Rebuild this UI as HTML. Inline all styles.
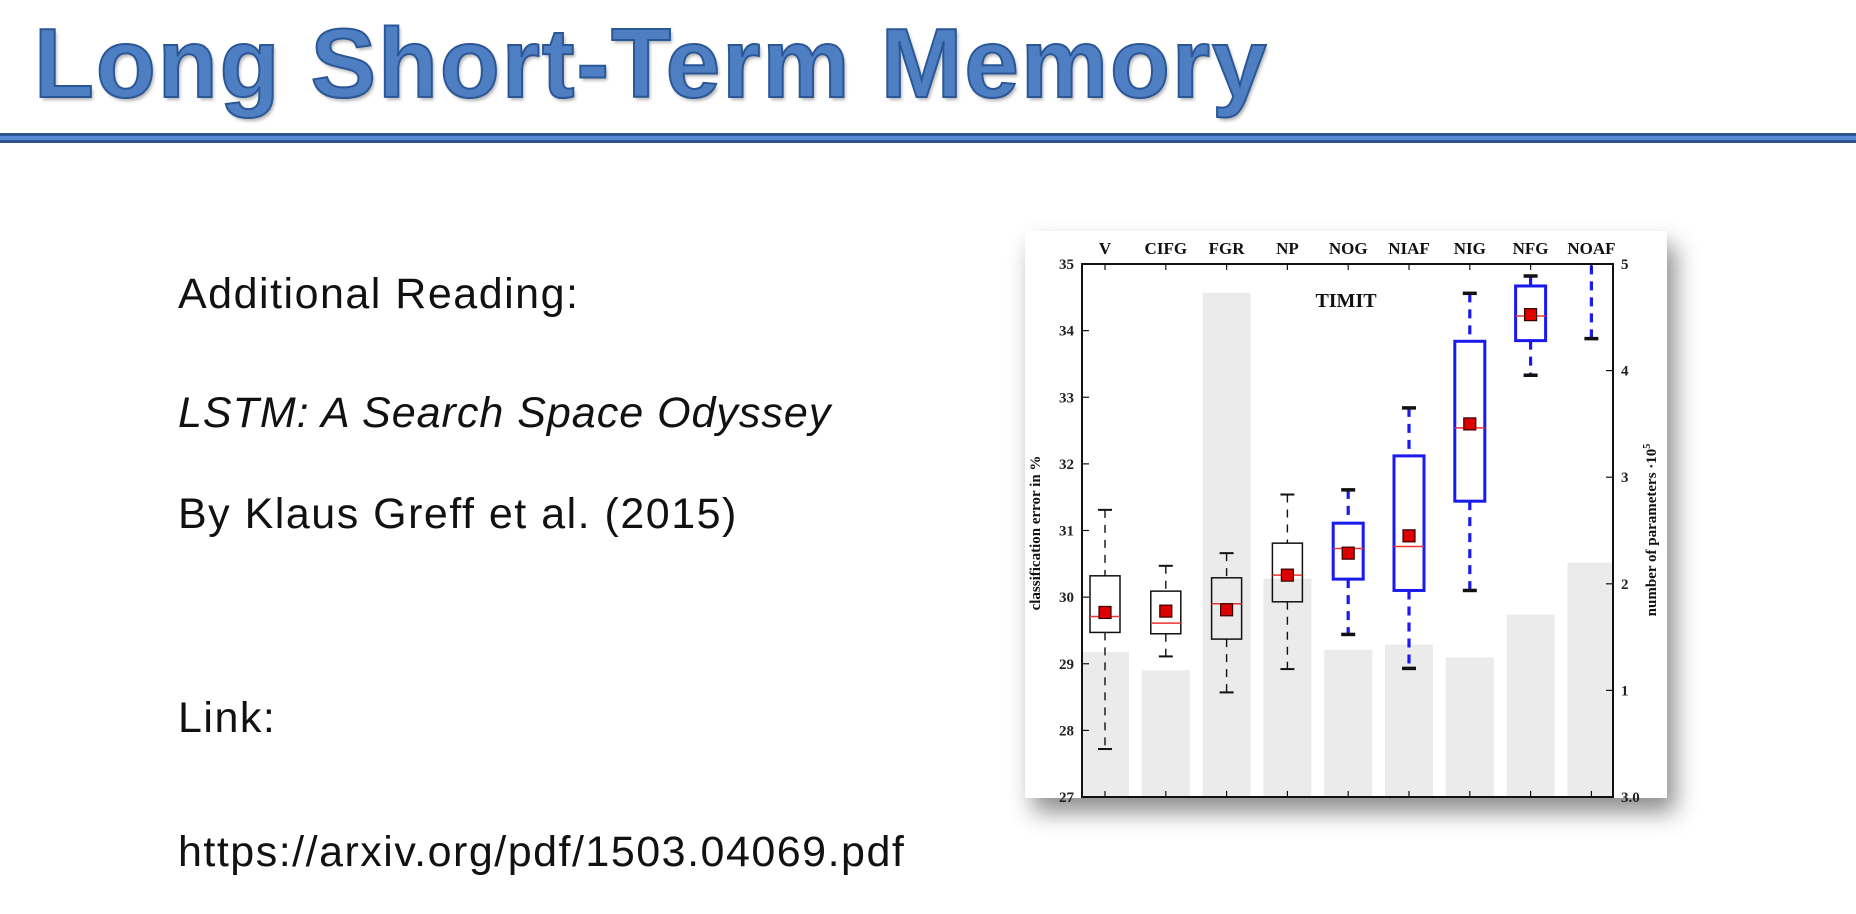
<!DOCTYPE html>
<html><head><meta charset="utf-8">
<style>
html,body{margin:0;padding:0;background:#fff;}
body{width:1856px;height:914px;position:relative;overflow:hidden;font-family:"Liberation Sans",sans-serif;}
.t{position:absolute;left:178px;font-size:43px;letter-spacing:1.5px;color:#111;white-space:nowrap;line-height:1;}
#title{position:absolute;left:34px;top:14px;font-size:98px;font-weight:bold;color:#4f7fc3;-webkit-text-stroke:2px #2b5797;letter-spacing:2px;text-shadow:2px 3px 3px rgba(0,0,0,0.3);white-space:nowrap;line-height:1;}
#rule{position:absolute;left:0;top:133px;width:1856px;height:4px;background:#5689d6;border-top:3px solid #2e558f;border-bottom:3px solid #2e558f;}
#chartbox{position:absolute;left:1025px;top:231px;width:642px;height:567px;background:#fff;box-shadow:8px 14px 22px rgba(0,0,0,0.45);}
</style></head><body>
<div id="title">Long Short-Term Memory</div>
<div id="rule"></div>
<div class="t" style="top:273px">Additional Reading:</div>
<div class="t" style="top:392px;font-style:italic;letter-spacing:1px">LSTM: A Search Space Odyssey</div>
<div class="t" style="top:493px">By Klaus Greff et al. (2015)</div>
<div class="t" style="top:697px">Link:</div>
<div class="t" style="top:831px">https://arxiv.org/pdf/1503.04069.pdf</div>
<div id="chartbox"></div>
<svg id="chart" width="1856" height="914" style="position:absolute;left:0;top:0">
<defs><clipPath id="pc"><rect x="1082" y="264" width="531" height="533"/></clipPath></defs>
<g id="bars" clip-path="url(#pc)"></g>
<g id="boxes" clip-path="url(#pc)"></g>
<g id="axes"></g>
</svg>
<script>
const categories=["V","CIFG","FGR","NP","NOG","NIAF","NIG","NFG","NOAF"];
const params=[1.36,1.19,4.73,2.05,1.38,1.43,1.31,1.71,2.2];
const whiskerHigh=[31.31,30.47,30.66,31.54,31.61,32.84,34.56,34.82,35.6];
const q3=[30.32,30.09,30.29,30.81,31.11,32.12,33.84,34.67,36.2];
const median=[29.71,29.61,29.90,30.33,30.73,30.76,32.54,34.22,35.9];
const mean=[29.77,29.79,29.81,30.33,30.66,30.92,32.60,34.24,35.9];
const q1=[29.47,29.45,29.37,29.93,30.27,30.10,31.44,33.85,35.7];
const whiskerLow=[27.72,29.11,28.57,28.92,29.44,28.93,30.10,33.33,33.88];
const blue=[false,false,false,false,true,true,true,true,true];
const leftTicks=[27,28,29,30,31,32,33,34,35];
const rightTicks=[0,1,2,3,4,5];
const rightTickLabels=["3.0","1","2","3","4","5"];

const L=1082,R=1613,T=264,B=797;
const xc=i=>L+23+i*60.8;
const yl=v=>B-(v-27)/8*(B-T);
const yr=v=>B-v/5*(B-T);
const NS="http://www.w3.org/2000/svg";
function mk(tag,attrs,parent){const e=document.createElementNS(NS,tag);for(const k in attrs)e.setAttribute(k,attrs[k]);parent.appendChild(e);return e;}
const gb=document.getElementById('bars'),gx=document.getElementById('boxes'),ga=document.getElementById('axes');
const serif='"Liberation Serif",serif';
categories.forEach((c,i)=>{
  const x=xc(i);
  const bar=mk('rect',{x:x-24,y:yr(params[i]),width:48,height:B-yr(params[i]),fill:'#ebebeb'},gb);
  
  
  const col=blue[i]?'#1a1aee':'#111';
  const g=mk('g',{},gx);
  
  
  const dash=blue[i]?{'stroke-width':3.2,'stroke-dasharray':'9,7'}:{'stroke-width':1.4,'stroke-dasharray':'8,7'};
  mk('line',Object.assign({x1:x,x2:x,y1:yl(whiskerHigh[i]),y2:yl(q3[i]),stroke:col},dash),g);
  mk('line',Object.assign({x1:x,x2:x,y1:yl(q1[i]),y2:yl(whiskerLow[i]),stroke:col},dash),g);
  const cw=blue[i]?3.5:2;
  mk('line',{x1:x-7,x2:x+7,y1:yl(whiskerHigh[i]),y2:yl(whiskerHigh[i]),stroke:'#111','stroke-width':cw},g);
  mk('line',{x1:x-7,x2:x+7,y1:yl(whiskerLow[i]),y2:yl(whiskerLow[i]),stroke:'#111','stroke-width':cw},g);
  mk('rect',{x:x-15,y:yl(q3[i]),width:30,height:yl(q1[i])-yl(q3[i]),fill:'none',stroke:col,'stroke-width':blue[i]?3:1.5},g);
  mk('line',{x1:x-15,x2:x+15,y1:yl(median[i]),y2:yl(median[i]),stroke:'#e33','stroke-width':1.5},g);
  mk('rect',{x:x-6,y:yl(mean[i])-6,width:12,height:12,fill:'#d00',stroke:'#300','stroke-width':1.2},g);
  const t=mk('text',{x:x,y:254,'text-anchor':'middle','font-family':serif,'font-size':17,'font-weight':'bold',fill:'#111'},ga);
  t.textContent=c;
  
  
  mk('line',{x1:x,x2:x,y1:T,y2:T+6,stroke:'#111','stroke-width':1.2},ga);
  mk('line',{x1:x,x2:x,y1:B,y2:B-6,stroke:'#111','stroke-width':1.2},ga);
});
mk('rect',{x:L,y:T,width:R-L,height:B-T,fill:'none',stroke:'#111','stroke-width':2},ga);
leftTicks.forEach(v=>{
  mk('line',{x1:L,x2:L+7,y1:yl(v),y2:yl(v),stroke:'#111','stroke-width':1.2},ga);
  const t=mk('text',{x:1074,y:yl(v)+5,'text-anchor':'end','font-family':serif,'font-size':15,'font-weight':'bold',fill:'#222'},ga);
  t.textContent=v;
  
  
});
rightTicks.forEach((v,k)=>{
  mk('line',{x1:R,x2:R-7,y1:yr(v),y2:yr(v),stroke:'#111','stroke-width':1.2},ga);
  const t=mk('text',{x:1621,y:yr(v)+5,'font-family':serif,'font-size':15,'font-weight':'bold',fill:'#222'},ga);
  t.textContent=rightTickLabels[k];
  
  
});
const tm=mk('text',{x:1346,y:307,'text-anchor':'middle','font-family':serif,'font-size':20,'font-weight':'bold',fill:'#111'},ga);
tm.textContent='TIMIT';


const ylab=mk('text',{x:0,y:0,transform:'translate(1040,533) rotate(-90)','text-anchor':'middle','font-family':serif,'font-size':15,'font-weight':'bold',fill:'#111'},ga);
ylab.textContent='classification error in %';


const rlab=mk('text',{x:0,y:0,transform:'translate(1656,530) rotate(-90)','text-anchor':'middle','font-family':serif,'font-size':15,'font-weight':'bold',fill:'#111'},ga);
rlab.textContent='number of parameters \u00b710';
const sup=mk('tspan',{dy:-6,'font-size':10},rlab);
sup.textContent='5';


</script>
</body></html>
